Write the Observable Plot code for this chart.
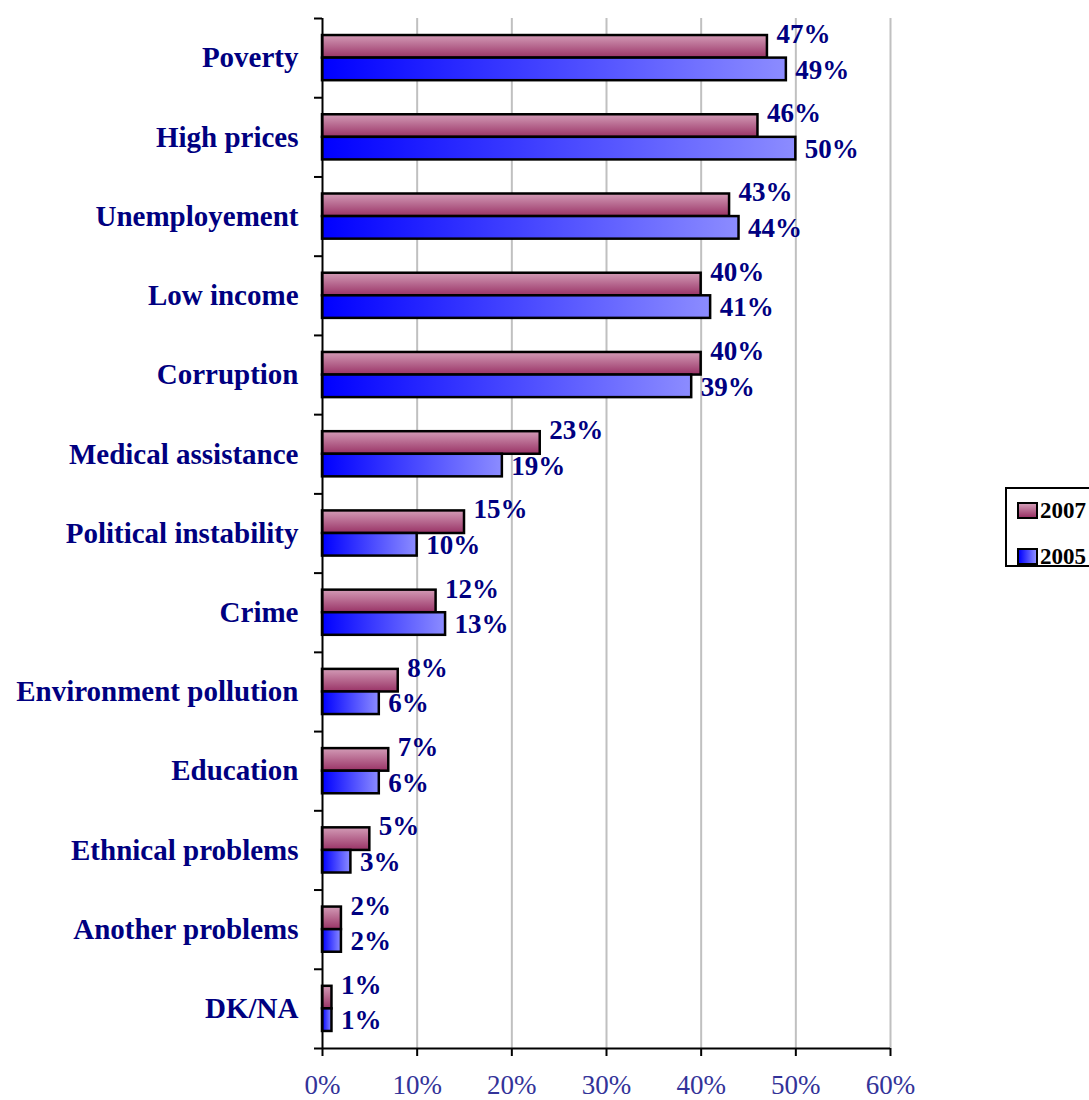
<!DOCTYPE html>
<html><head><meta charset="utf-8">
<script src="https://cdn.jsdelivr.net/npm/d3@7"></script>
<script src="https://cdn.jsdelivr.net/npm/@observablehq/plot@0.6"></script>
<style>
html,body{margin:0;padding:0;background:#fff;overflow:hidden;}
#wrap{position:relative;width:1089px;height:1100px;overflow:hidden;}
#legend{position:absolute;left:1005px;top:487px;width:120px;height:76px;border:2px solid #000;background:#fff;font-family:"Liberation Serif","Times New Roman",serif;font-weight:bold;font-size:23px;color:#000;}
.item{position:absolute;left:10px;height:20px;line-height:20px;white-space:nowrap;}
.sw{display:inline-block;width:17px;height:13px;border:2px solid #000;vertical-align:middle;margin-right:2px;position:relative;top:-2px;}
</style>
</head><body>
<div id="wrap"></div>
<script>
const categories = ["Poverty","High prices","Unemployement","Low income","Corruption","Medical assistance","Political instability","Crime","Environment pollution","Education","Ethnical problems","Another problems","DK/NA"];
const values2007 = [47,46,43,40,40,23,15,12,8,7,5,2,1];
const values2005 = [49,50,44,41,39,19,10,13,6,6,3,2,1];
const seriesNames = ["2007","2005"];
const xTicks = [0,10,20,30,40,50,60];

const rows = categories.map((c,i)=>({c, i, v2007: values2007[i], v2005: values2005[i]}));
const navy = "#000080";
const font = "'Liberation Serif','Times New Roman',serif";

const svg = Plot.plot({
  width: 1089,
  height: 1100,
  marginLeft: 322,
  marginRight: 199,
  marginTop: 18,
  marginBottom: 52,
  style: {fontFamily: font, background: "#fff"},
  x: {domain: [0, 60]},
  y: {domain: [0, categories.length], reverse: true},
  marks: [
    Plot.gridX(xTicks.slice(1), {stroke: "#c0c0c0", strokeWidth: 2, strokeOpacity: 1}),
    Plot.rect(rows, {x1: 0, x2: "v2007", y1: d => d.i + 0.215, y2: d => d.i + 0.5, fill: "url(#gMaroon)", stroke: "#000", strokeWidth: 2.5}),
    Plot.rect(rows, {x1: 0, x2: "v2005", y1: d => d.i + 0.5, y2: d => d.i + 0.785, fill: "url(#gBlue)", stroke: "#000", strokeWidth: 2.5}),
    Plot.ruleX([0], {stroke: "#000", strokeWidth: 2}),
    Plot.ruleY([categories.length], {stroke: "#000", strokeWidth: 2}),
    Plot.axisY(d3.range(categories.length + 1), {tickSize: 8, tickFormat: () => "", stroke: "#000", strokeWidth: 2}),
    Plot.axisX(xTicks, {tickSize: 8, tickPadding: 18, tickFormat: d => d + "%", fontSize: 27, fill: "#333399", stroke: "#000", strokeWidth: 2}),
    Plot.text(rows, {x: 0, y: d => d.i + 0.5, text: "c", dx: -24, textAnchor: "end", fontWeight: "bold", fontSize: 29, fill: navy}),
    Plot.text(rows, {x: "v2007", y: d => d.i + 0.2, text: d => d.v2007 + "%", dx: 9, textAnchor: "start", fontWeight: "bold", fontSize: 27, fill: navy}),
    Plot.text(rows, {x: "v2005", y: d => d.i + 0.65, text: d => d.v2005 + "%", dx: 9, textAnchor: "start", fontWeight: "bold", fontSize: 27, fill: navy})
  ]
});

d3.select(svg).insert("defs", ":first-child").html(`
  <linearGradient id="gMaroon" x1="0" y1="0" x2="0" y2="1">
    <stop offset="0" stop-color="#d39bb6"/>
    <stop offset="1" stop-color="#993366"/>
  </linearGradient>
  <linearGradient id="gBlue" x1="0" y1="0" x2="1" y2="0">
    <stop offset="0" stop-color="#0000ff"/>
    <stop offset="1" stop-color="#8c8cff"/>
  </linearGradient>`);

const wrap = document.getElementById("wrap");
wrap.appendChild(svg);

const legend = document.createElement("div");
legend.id = "legend";
const swatchBg = ["linear-gradient(to bottom,#d39bb6,#993366)", "linear-gradient(to right,#0000ff,#8c8cff)"];
const tops = [12, 58];
seriesNames.forEach((s, k) => {
  const it = document.createElement("div");
  it.className = "item";
  it.style.top = tops[k] + "px";
  const sw = document.createElement("span");
  sw.className = "sw";
  sw.style.background = swatchBg[k];
  it.appendChild(sw);
  it.appendChild(document.createTextNode(s));
  legend.appendChild(it);
});
wrap.appendChild(legend);
</script>
</body></html>
